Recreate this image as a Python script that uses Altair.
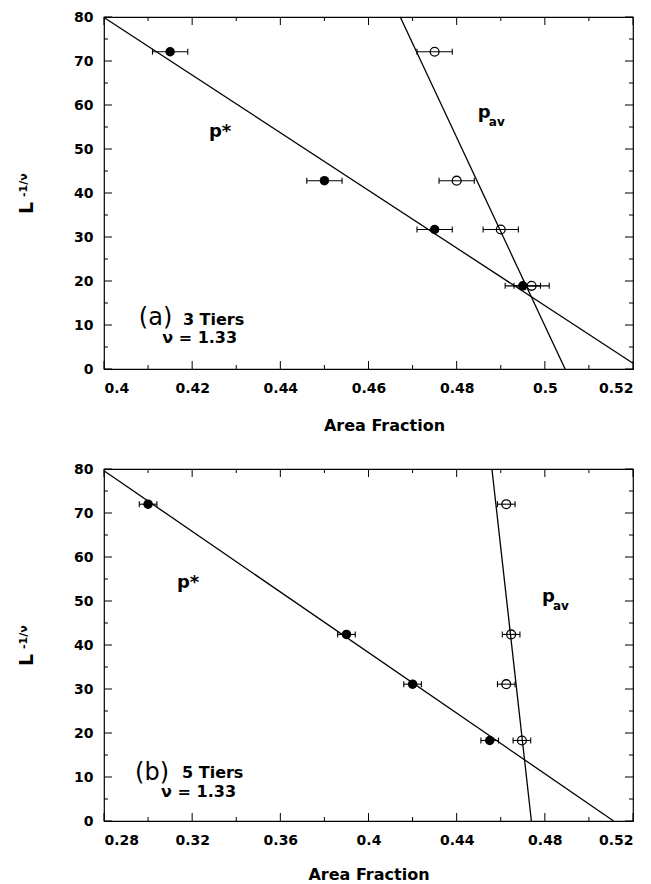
import altair as alt
import pandas as pd

W, H = 529, 352
FONT = "DejaVu Sans"
MAJOR, MINOR = 8, 4

# ---------------- data ----------------
y_domain = [0, 80]
y_major = [0, 10, 20, 30, 40, 50, 60, 70, 80]
y_minor = [5, 15, 25, 35, 45, 55, 65, 75]

# Panel (a): 3 tiers
a_x_domain = [0.40, 0.52]
a_x_major = [0.40, 0.42, 0.44, 0.46, 0.48, 0.50, 0.52]
a_x_minor = [0.41, 0.43, 0.45, 0.47, 0.49, 0.51]
a_pstar_x = [0.415, 0.450, 0.475, 0.495]
a_pstar_y = [72.1, 42.8, 31.7, 18.9]
a_pstar_err = [0.004, 0.004, 0.004, 0.004]
a_pav_x = [0.475, 0.480, 0.490, 0.497]
a_pav_y = [72.1, 42.8, 31.7, 18.9]
a_pav_err = [0.004, 0.004, 0.004, 0.004]
a_pstar_fit_x = [0.400, 0.520]
a_pstar_fit_y = [79.9, 1.3]
a_pav_fit_x = [0.4672, 0.5046]
a_pav_fit_y = [80.0, 0.0]

# Panel (b): 5 tiers
b_x_domain = [0.28, 0.52]
b_x_major = [0.28, 0.32, 0.36, 0.40, 0.44, 0.48, 0.52]
b_x_minor = [0.30, 0.34, 0.38, 0.42, 0.46, 0.50]
b_pstar_x = [0.300, 0.390, 0.420, 0.455]
b_pstar_y = [72.0, 42.4, 31.1, 18.3]
b_pstar_err = [0.004, 0.004, 0.004, 0.004]
b_pav_x = [0.4625, 0.4647, 0.4625, 0.4696]
b_pav_y = [72.0, 42.4, 31.1, 18.3]
b_pav_err = [0.004, 0.004, 0.004, 0.004]
b_pstar_fit_x = [0.280, 0.5112]
b_pstar_fit_y = [79.6, 0.0]
b_pav_fit_x = [0.456, 0.4739]
b_pav_fit_y = [80.0, 0.0]


def panel(xdom, xmaj, xmin, ps_x, ps_y, ps_e, pa_x, pa_y, pa_e,
          fs_x, fs_y, fa_x, fa_y, notes, title_x=None, title_pad=22):
    xs = alt.Scale(domain=xdom, nice=False, zero=False)
    ys = alt.Scale(domain=y_domain, nice=False, zero=False)

    xlab_kw = dict(orient="bottom", values=xmaj, format="~g", ticks=False, tickSize=0,
                   domain=False, grid=False, labelPadding=12, labelFont=FONT,
                   labelFontSize=14, labelFontWeight="bold", labelColor="black",
                   title="Area Fraction", titlePadding=title_pad, titleFont=FONT,
                   titleFontSize=16, titleFontWeight="bold", titleColor="black")
    if title_x is not None:
        xlab_kw["titleX"] = title_x
    xax = alt.Axis(**xlab_kw)
    yax = alt.Axis(orient="left", values=y_major, ticks=False, tickSize=0, domain=False,
                   grid=False, labelPadding=11, labelFont=FONT, labelFontSize=14,
                   labelFontWeight="bold", labelColor="black", title=None)

    def X(field):
        return alt.X(field, scale=xs, axis=xax)

    def Y(field):
        return alt.Y(field, scale=ys, axis=yax)

    xe = ps_e + pa_e
    xv = ps_x + pa_x
    pts = pd.DataFrame({
        "x": xv,
        "y": ps_y + pa_y,
        "lo": [v - e for v, e in zip(xv, xe)],
        "hi": [v + e for v, e in zip(xv, xe)],
        "kind": ["pstar"] * len(ps_x) + ["pav"] * len(pa_x),
    })
    fits = pd.DataFrame({
        "x": fs_x + fa_x,
        "y": fs_y + fa_y,
        "line": ["pstar"] * len(fs_x) + ["pav"] * len(fa_x),
    })

    lines = alt.Chart(fits).mark_line(color="black", strokeWidth=1.3).encode(
        x=X("x:Q"), y=Y("y:Q"), detail="line:N")

    bars = alt.Chart(pts).mark_rule(color="black", strokeWidth=1.1).encode(
        x=X("lo:Q"), x2="hi:Q", y=Y("y:Q"))

    caps = alt.Chart(pts).transform_fold(["lo", "hi"], as_=["end", "xe"]).mark_tick(
        orient="vertical", size=6, thickness=1.1, color="black", opacity=1).encode(
        x=X("xe:Q"), y=Y("y:Q"))

    filled = alt.Chart(pts).transform_filter("datum.kind == 'pstar'").mark_point(
        filled=True, size=90, color="black", opacity=1).encode(
        x=X("x:Q"), y=Y("y:Q"))

    hollow = alt.Chart(pts).transform_filter("datum.kind == 'pav'").mark_point(
        filled=False, size=78, color="black", strokeWidth=1.3, opacity=1).encode(
        x=X("x:Q"), y=Y("y:Q"))

    # inward tick marks on all four sides, at the axis tick values
    ticks = []
    for vals, ln in ((xmaj, MAJOR), (xmin, MINOR)):
        base = alt.Chart(pd.DataFrame({"v": vals})).mark_rule(color="black", strokeWidth=1)
        ticks.append(base.encode(x=X("v:Q"), y=alt.value(H), y2=alt.value(H - ln)))
        ticks.append(base.encode(x=X("v:Q"), y=alt.value(0), y2=alt.value(ln)))
    for vals, ln in ((y_major, MAJOR), (y_minor, MINOR)):
        base = alt.Chart(pd.DataFrame({"v": vals})).mark_rule(color="black", strokeWidth=1)
        ticks.append(base.encode(y=Y("v:Q"), x=alt.value(0), x2=alt.value(ln)))
        ticks.append(base.encode(y=Y("v:Q"), x=alt.value(W), x2=alt.value(W - ln)))

    one = pd.DataFrame({"t": ["L"]})
    ytitle_L = alt.Chart(one).mark_text(font=FONT, fontSize=19, fontWeight="bold",
                                        angle=270, align="left", baseline="alphabetic",
                                        color="black").encode(
        x=alt.value(-71), y=alt.value(197), text=alt.value("L"))
    ytitle_sup = alt.Chart(one).mark_text(font=FONT, fontSize=11, fontWeight="bold",
                                          angle=270, align="left", baseline="alphabetic",
                                          color="black").encode(
        x=alt.value(-77), y=alt.value(180), text=alt.value("-1/\u03bd"))

    texts = []
    for (t, nx, ny, size, weight, dx, dy) in notes:
        df = pd.DataFrame({"x": [nx], "y": [ny], "t": [t]})
        texts.append(alt.Chart(df).mark_text(
            font=FONT, fontSize=size, fontWeight=weight, align="left",
            baseline="alphabetic", dx=dx, dy=dy, color="black").encode(
            x=X("x:Q"), y=Y("y:Q"), text="t:N"))

    return alt.layer(lines, *ticks, bars, caps, filled, hollow, ytitle_L, ytitle_sup,
                     *texts).properties(width=W, height=H)


a_notes = [
    ("p*", 0.4238, 52.7, 18, "bold", 0, 0),
    ("p", 0.4848, 57.0, 18, "bold", 0, 0),
    ("av", 0.4848, 57.0, 12, "bold", 11, 8),
    ("(a)", 0.4079, 10.0, 24, "normal", 0, 0),
    ("3 Tiers", 0.4179, 10.0, 16, "bold", 0, 0),
    ("\u03bd = 1.33", 0.4132, 5.9, 16, "bold", 0, 0),
]
b_notes = [
    ("p*", 0.3131, 53.0, 18, "bold", 0, 0),
    ("p", 0.4787, 49.8, 18, "bold", 0, 0),
    ("av", 0.4787, 49.8, 12, "bold", 11, 8),
    ("(b)", 0.2941, 9.3, 24, "normal", 0, 0),
    ("5 Tiers", 0.3154, 9.8, 16, "bold", 0, 0),
    ("\u03bd = 1.33", 0.3059, 5.45, 16, "bold", 0, 0),
]

top = panel(a_x_domain, a_x_major, a_x_minor, a_pstar_x, a_pstar_y, a_pstar_err,
            a_pav_x, a_pav_y, a_pav_err, a_pstar_fit_x, a_pstar_fit_y,
            a_pav_fit_x, a_pav_fit_y, a_notes, title_x=280, title_pad=22)
bottom = panel(b_x_domain, b_x_major, b_x_minor, b_pstar_x, b_pstar_y, b_pstar_err,
               b_pav_x, b_pav_y, b_pav_err, b_pstar_fit_x, b_pstar_fit_y,
               b_pav_fit_x, b_pav_fit_y, b_notes, title_pad=19)

chart = alt.vconcat(top, bottom, spacing=27).properties(
    padding={"left": 9, "top": 1, "right": 5, "bottom": 0},
    background="white",
).configure_view(stroke="black", strokeWidth=1.2)

chart.save("out.html", embed_options={"renderer": "svg", "actions": False})
